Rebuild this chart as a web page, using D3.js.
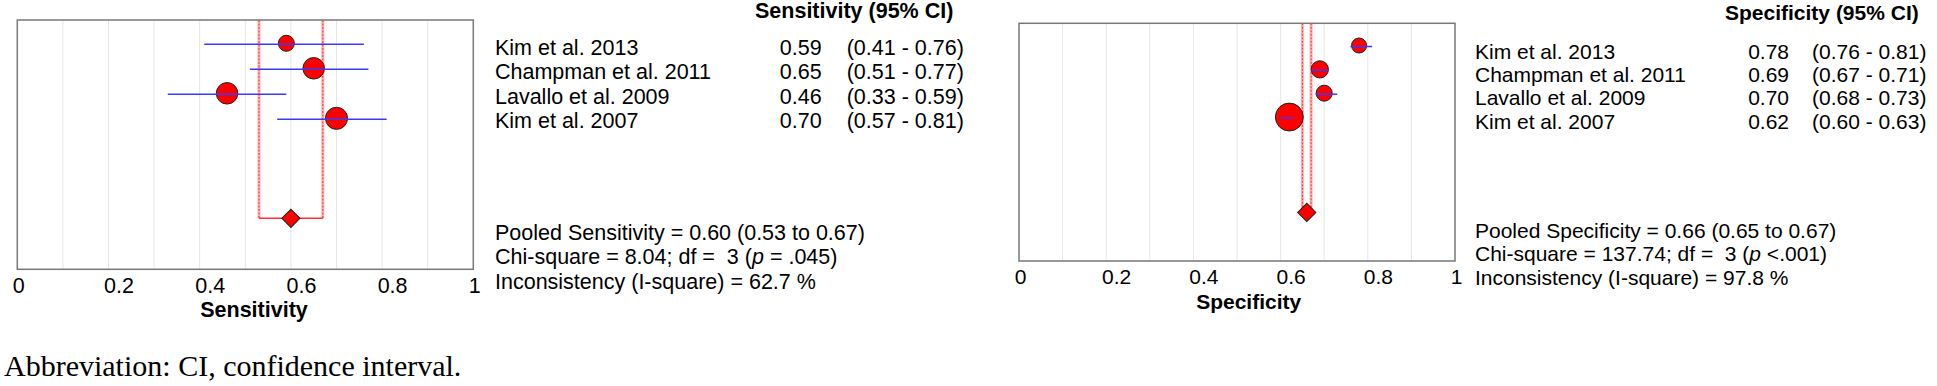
<!DOCTYPE html>
<html>
<head>
<meta charset="utf-8">
<script src="https://cdn.jsdelivr.net/npm/d3@7"></script>
<style>
  html, body { margin: 0; padding: 0; background: #fff; }
  svg text { font-family: "Liberation Sans", Arial, sans-serif; fill: #000; white-space: pre; }
</style>
</head>
<body>
<div id="chart"></div>
<script>
// study labels
var studies = ["Kim et al. 2013", "Champman et al. 2011", "Lavallo et al. 2009", "Kim et al. 2007"];

// sensitivity per study
var sensEst = [0.59, 0.65, 0.46, 0.70];
var sensLo = [0.41, 0.51, 0.33, 0.57];
var sensHi = [0.76, 0.77, 0.59, 0.81];
var sensWeight = [15, 27, 27, 28.5];
var sensPooled = [0.60, 0.53, 0.67];
var sensStats = ["Pooled Sensitivity = 0.60 (0.53 to 0.67)",
                 ["Chi-square = 8.04; df =  3 (", "p", " = .045)"],
                 "Inconsistency (I-square) = 62.7 %"];

// specificity per study
var specEst = [0.78, 0.69, 0.70, 0.62];
var specLo = [0.76, 0.67, 0.68, 0.60];
var specHi = [0.81, 0.71, 0.73, 0.63];
var specWeight = [14.5, 19, 16.5, 50];
var specPooled = [0.66, 0.65, 0.67];
var specStats = ["Pooled Specificity = 0.66 (0.65 to 0.67)",
                 ["Chi-square = 137.74; df =  3 (", "p", " <.001)"],
                 "Inconsistency (I-square) = 97.8 %"];

// axis
var xTicks = [0, 0.2, 0.4, 0.6, 0.8, 1];
var xTickLabels = ["0", "0.2", "0.4", "0.6", "0.8", "1"];
var gridTicks = [0.1, 0.2, 0.3, 0.4, 0.5, 0.6, 0.7, 0.8, 0.9];

var w = 1937, h = 386;
var svg = d3.select("#chart").append("svg")
    .attr("width", w)
    .attr("height", h);

// weight -> circle radius
var rScale = d3.scaleSqrt().domain([0, 100]).range([0, 20.7]);

function forest(cfg) {
    var x = d3.scaleLinear().domain([0, 1]).range([cfg.fx0, cfg.fx1]);
    // rows 0..3 are studies, 7 is the pooled row
    var y = d3.scaleLinear().domain([-0.932, 9.038]).range([cfg.fy0, cfg.fy1]);
    var g = svg.append("g");

    // grid
    g.selectAll("line.grid").data(gridTicks).enter().append("line")
        .attr("x1", function(d) { return x(d); })
        .attr("x2", function(d) { return x(d); })
        .attr("y1", cfg.fy0).attr("y2", cfg.fy1)
        .attr("stroke", "#e6e6e6").attr("stroke-width", 1);

    // pooled CI band
    var py = y(7);
    [cfg.pooled[1], cfg.pooled[2]].forEach(function(v) {
        g.append("line")
            .attr("x1", x(v)).attr("x2", x(v))
            .attr("y1", cfg.fy0).attr("y2", py)
            .attr("stroke", "#ffb0b0").attr("stroke-width", 3);
        g.append("line")
            .attr("x1", x(v)).attr("x2", x(v))
            .attr("y1", cfg.fy0).attr("y2", py)
            .attr("stroke", "#ff3030").attr("stroke-width", 1)
            .attr("stroke-dasharray", "2,1.5");
    });
    g.append("line")
        .attr("x1", x(cfg.pooled[1])).attr("x2", x(cfg.pooled[2]))
        .attr("y1", py).attr("y2", py)
        .attr("stroke", "#ff3030").attr("stroke-width", 1.5);

    // study circles
    g.selectAll("circle").data(cfg.est).enter().append("circle")
        .attr("cx", function(d) { return x(d); })
        .attr("cy", function(d, i) { return y(i); })
        .attr("r", function(d, i) { return rScale(cfg.weight[i]) * cfg.k; })
        .attr("fill", "#ff0000")
        .attr("stroke", "#222").attr("stroke-width", 1);

    // CI lines
    g.selectAll("line.ci").data(cfg.lo).enter().append("line")
        .attr("x1", function(d) { return x(d); })
        .attr("x2", function(d, i) { return x(cfg.hi[i]); })
        .attr("y1", function(d, i) { return y(i) + 1; })
        .attr("y2", function(d, i) { return y(i) + 1; })
        .attr("stroke", "#3a3aff").attr("stroke-width", 1.5);

    // pooled diamond
    g.append("path")
        .attr("d", d3.symbol().type(d3.symbolSquare).size(165)())
        .attr("transform", "translate(" + x(cfg.pooled[0]) + "," + py + ") rotate(45)")
        .attr("fill", "#ff0000")
        .attr("stroke", "#222").attr("stroke-width", 1);

    // frame
    g.append("rect")
        .attr("x", cfg.fx0).attr("y", cfg.fy0)
        .attr("width", cfg.fx1 - cfg.fx0).attr("height", cfg.fy1 - cfg.fy0)
        .attr("fill", "none").attr("stroke", "#777").attr("stroke-width", 1.5);

    // x axis labels
    var ax = g.append("g")
        .attr("transform", "translate(0," + cfg.tickY + ")")
        .call(d3.axisBottom(x).tickValues(xTicks).tickSize(0)
            .tickFormat(function(d, i) { return xTickLabels[i]; }));
    ax.select(".domain").remove();
    ax.selectAll("text")
        .attr("y", 0).attr("dy", 0)
        .attr("dx", function(d) { return (d === 0 || d === 1) ? 1 : 10; })
        .style("font-size", cfg.fs + "px")
        .style("font-family", '"Liberation Sans", Arial, sans-serif')
        .attr("fill", "#000");

    g.append("text")
        .attr("x", cfg.titleX).attr("y", cfg.titleY)
        .attr("text-anchor", "middle")
        .style("font-size", cfg.fs + "px").style("font-weight", "bold")
        .text(cfg.title);

    // right-hand table
    g.append("text")
        .attr("x", cfg.headX).attr("y", cfg.headY)
        .style("font-size", cfg.fs + "px").style("font-weight", "bold")
        .text(cfg.header);

    var rowY = function(i) { return cfg.rowY0 + i * cfg.rowDy; };
    g.selectAll("text.name").data(studies).enter().append("text")
        .attr("x", cfg.nameX).attr("y", function(d, i) { return rowY(i); })
        .style("font-size", cfg.fs + "px")
        .text(function(d) { return d; });
    g.selectAll("text.val").data(cfg.est).enter().append("text")
        .attr("x", cfg.valR).attr("y", function(d, i) { return rowY(i); })
        .attr("text-anchor", "end")
        .style("font-size", cfg.fs + "px")
        .text(function(d) { return d.toFixed(2); });
    g.selectAll("text.ci").data(cfg.lo).enter().append("text")
        .attr("x", cfg.ciX).attr("y", function(d, i) { return rowY(i); })
        .style("font-size", cfg.fs + "px")
        .text(function(d, i) { return "(" + d.toFixed(2) + " - " + cfg.hi[i].toFixed(2) + ")"; });

    cfg.stats.forEach(function(s, i) {
        var t = g.append("text")
            .attr("x", cfg.nameX).attr("y", cfg.poolY0 + i * cfg.poolDy)
            .style("font-size", cfg.fs + "px");
        if (Array.isArray(s)) {
            t.append("tspan").text(s[0]);
            t.append("tspan").style("font-style", "italic").text(s[1]);
            t.append("tspan").text(s[2]);
        } else {
            t.text(s);
        }
    });
}

forest({
    est: sensEst, lo: sensLo, hi: sensHi, weight: sensWeight, pooled: sensPooled, stats: sensStats,
    title: "Sensitivity", header: "Sensitivity (95% CI)",
    fx0: 17.3, fx1: 473.3, fy0: 20, fy1: 269.3, k: 1, fs: 21.5,
    tickY: 293.3, titleX: 254, titleY: 317,
    headX: 755, headY: 17.5, nameX: 495, valR: 821.7, ciX: 846.7,
    rowY0: 55, rowDy: 24.4, poolY0: 239.5, poolDy: 24.5
});

forest({
    est: specEst, lo: specLo, hi: specHi, weight: specWeight, pooled: specPooled, stats: specStats,
    title: "Specificity", header: "Specificity (95% CI)",
    fx0: 1019, fx1: 1455, fy0: 23.3, fy1: 261, k: 0.953, fs: 21,
    tickY: 284, titleX: 1248.7, titleY: 308.7,
    headX: 1725, headY: 20, nameX: 1475, valR: 1789, ciX: 1812,
    rowY0: 58.7, rowDy: 23.3, poolY0: 238, poolDy: 23.3
});

// footnote
svg.append("text")
    .attr("x", 4).attr("y", 376)
    .style("font-family", '"Liberation Serif", "DejaVu Serif", serif')
    .style("font-size", "30px")
    .text("Abbreviation: CI, confidence interval.");
</script>
</body>
</html>
